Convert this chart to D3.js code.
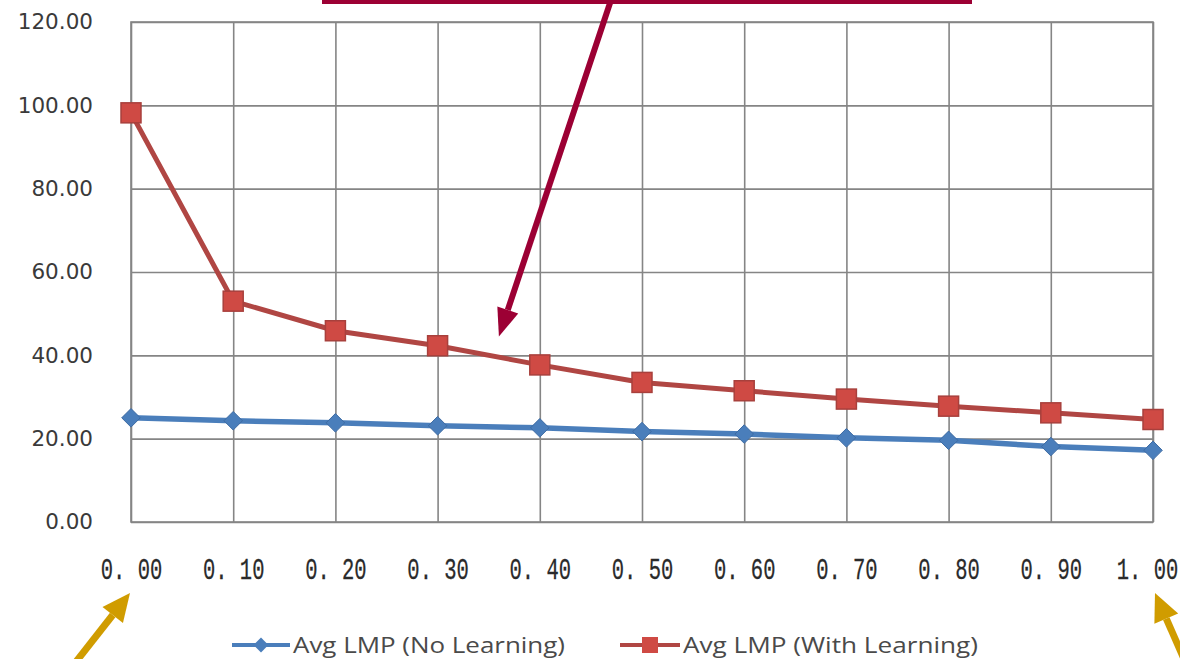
<!DOCTYPE html>
<html>
<head>
<meta charset="utf-8">
<script src="https://cdn.jsdelivr.net/npm/d3@7"></script>
<style>
  html, body { margin: 0; padding: 0; background: #fff; }
  svg { display: block; }
</style>
</head>
<body>
<svg id="chart" width="1180" height="659"></svg>
<script>
// Learning weight values on the x axis
const weights = [0.0, 0.1, 0.2, 0.3, 0.4, 0.5, 0.6, 0.7, 0.8, 0.9, 1.0];
const xTickLabels = ["0. 00", "0. 10", "0. 20", "0. 30", "0. 40", "0. 50", "0. 60", "0. 70", "0. 80", "0. 90", "1. 00"];
const yTicks = [0, 20, 40, 60, 80, 100, 120];

// Average LMP per weight
const lmpNoLearning   = [25.0, 24.3, 23.8, 23.1, 22.6, 21.7, 21.1, 20.2, 19.6, 18.1, 17.2];
const lmpWithLearning = [98.2, 53.0, 45.9, 42.3, 37.7, 33.5, 31.5, 29.5, 27.8, 26.2, 24.6];

const seriesNames = ["Avg LMP (No Learning)", "Avg LMP (With Learning)"];

const svg = d3.select("#chart");
const plot = { left: 131, right: 1153, top: 22, bottom: 522 };

const x = d3.scaleLinear().domain([0, 1]).range([plot.left, plot.right]);
const y = d3.scaleLinear().domain([0, 120]).range([plot.bottom, plot.top]);

const gridColor = "#858585";
const blue = "#4a7ebb";
const redLine = "#b04643";
const redFill = "#cf4a44";

// Horizontal grid lines + y labels
const yAxis = d3.axisLeft(y).tickValues(yTicks)
  .tickSize(-(plot.right - plot.left)).tickPadding(38)
  .tickFormat(d => d3.format(".2f")(d));
const gy = svg.append("g").attr("transform", `translate(${plot.left},0)`).call(yAxis);
gy.select(".domain").remove();
gy.selectAll(".tick line").attr("stroke", gridColor).attr("stroke-width", 1.6);
gy.selectAll(".tick text")
  .attr("fill", "#3a3a3a")
  .style("font-family", "'DejaVu Sans', sans-serif")
  .style("font-size", "21.5px");

// Vertical grid lines + x labels
const xAxis = d3.axisBottom(x).tickValues(weights)
  .tickSize(-(plot.bottom - plot.top)).tickPadding(0)
  .tickFormat((d, i) => xTickLabels[i]);
const gx = svg.append("g").attr("transform", `translate(0,${plot.bottom})`).call(xAxis);
gx.select(".domain").remove();
gx.selectAll(".tick line").attr("stroke", gridColor).attr("stroke-width", 1.6);
gx.selectAll(".tick text")
  .attr("y", 0)
  .attr("dy", 0)
  .attr("x", (d, i) => i === weights.length - 1 ? -6 : 0)
  .attr("transform", "translate(0,57) scale(1,1.4)")
  .attr("fill", "#2a2a2a")
  .attr("stroke", "#2a2a2a")
  .attr("stroke-width", 0.2)
  .style("font-family", "'Liberation Mono', monospace")
  .style("font-size", "20.5px");

// Plot border
svg.append("rect")
  .attr("x", plot.left).attr("y", plot.top)
  .attr("width", plot.right - plot.left).attr("height", plot.bottom - plot.top)
  .attr("fill", "none").attr("stroke", gridColor).attr("stroke-width", 1.6);

const line = d3.line().x((d, i) => x(weights[i])).y(d => y(d));

// No-learning series: line with diamond markers
svg.append("path").datum(lmpNoLearning)
  .attr("d", line).attr("fill", "none")
  .attr("stroke", blue).attr("stroke-width", 5.5).attr("stroke-linejoin", "round");
svg.append("g").selectAll("path").data(lmpNoLearning).join("path")
  .attr("d", d3.symbol(d3.symbolDiamond2, 220)())
  .attr("transform", (d, i) => `translate(${x(weights[i])},${y(d)})`)
  .attr("fill", blue).attr("stroke", "#3d6ba3").attr("stroke-width", 1);

// With-learning series: line with square markers
svg.append("path").datum(lmpWithLearning)
  .attr("d", line).attr("fill", "none")
  .attr("stroke", redLine).attr("stroke-width", 5).attr("stroke-linejoin", "round");
svg.append("g").selectAll("rect").data(lmpWithLearning).join("rect")
  .attr("x", (d, i) => x(weights[i]) - 10).attr("y", d => y(d) - 10)
  .attr("width", 20).attr("height", 20)
  .attr("fill", redFill).attr("stroke", "#a8403c").attr("stroke-width", 1.5);

// Legend
const legendY = 645;
const legend = svg.append("g");
const legItems = [
  { x0: 232, x1: 290, color: blue, kind: "diamond", label: seriesNames[0], tx: 293, tl: 272 },
  { x0: 620, x1: 680, color: redLine, kind: "square", label: seriesNames[1], tx: 683, tl: 295 }
];
legItems.forEach(it => {
  legend.append("line").attr("x1", it.x0).attr("x2", it.x1)
    .attr("y1", legendY).attr("y2", legendY)
    .attr("stroke", it.color).attr("stroke-width", 4);
  const cx = (it.x0 + it.x1) / 2;
  if (it.kind === "diamond") {
    legend.append("path").attr("d", d3.symbol(d3.symbolDiamond2, 140)())
      .attr("transform", `translate(${cx},${legendY})`).attr("fill", blue);
  } else {
    legend.append("rect").attr("x", cx - 8).attr("y", legendY - 8)
      .attr("width", 16).attr("height", 16).attr("fill", redFill);
  }
  legend.append("text").attr("x", it.tx).attr("y", legendY + 8)
    .attr("textLength", it.tl).attr("lengthAdjust", "spacingAndGlyphs")
    .attr("fill", "#4a4a4a")
    .style("font-family", "'Open Sans', sans-serif")
    .style("font-size", "22px")
    .text(it.label);
});

// Callout: bar across the top with an arrow pointing at the learning curve
const callout = "#9c0034";
svg.append("rect").attr("x", 322).attr("y", 0).attr("width", 650).attr("height", 4).attr("fill", callout);
const tip = [x(0.36), y(44.5)];
function arrow(from, to, color, width, headLen, headW) {
  const dx = to[0] - from[0], dy = to[1] - from[1];
  const len = Math.hypot(dx, dy), ux = dx / len, uy = dy / len;
  const bx = to[0] - ux * headLen, by = to[1] - uy * headLen;
  svg.append("line").attr("x1", from[0]).attr("y1", from[1]).attr("x2", bx).attr("y2", by)
    .attr("stroke", color).attr("stroke-width", width);
  svg.append("path")
    .attr("d", `M${to[0]},${to[1]} L${bx - uy * headW},${by + ux * headW} L${bx + uy * headW},${by - ux * headW} Z`)
    .attr("fill", color);
}
arrow([611, 0], tip, callout, 6, 28, 11);

// Callouts at both ends of the weight axis
const gold = "#d09c00";
arrow([68, 672], [130, 593], gold, 7, 28, 13);
arrow([1188, 668], [1155, 593], gold, 7, 28, 13);
</script>
</body>
</html>
